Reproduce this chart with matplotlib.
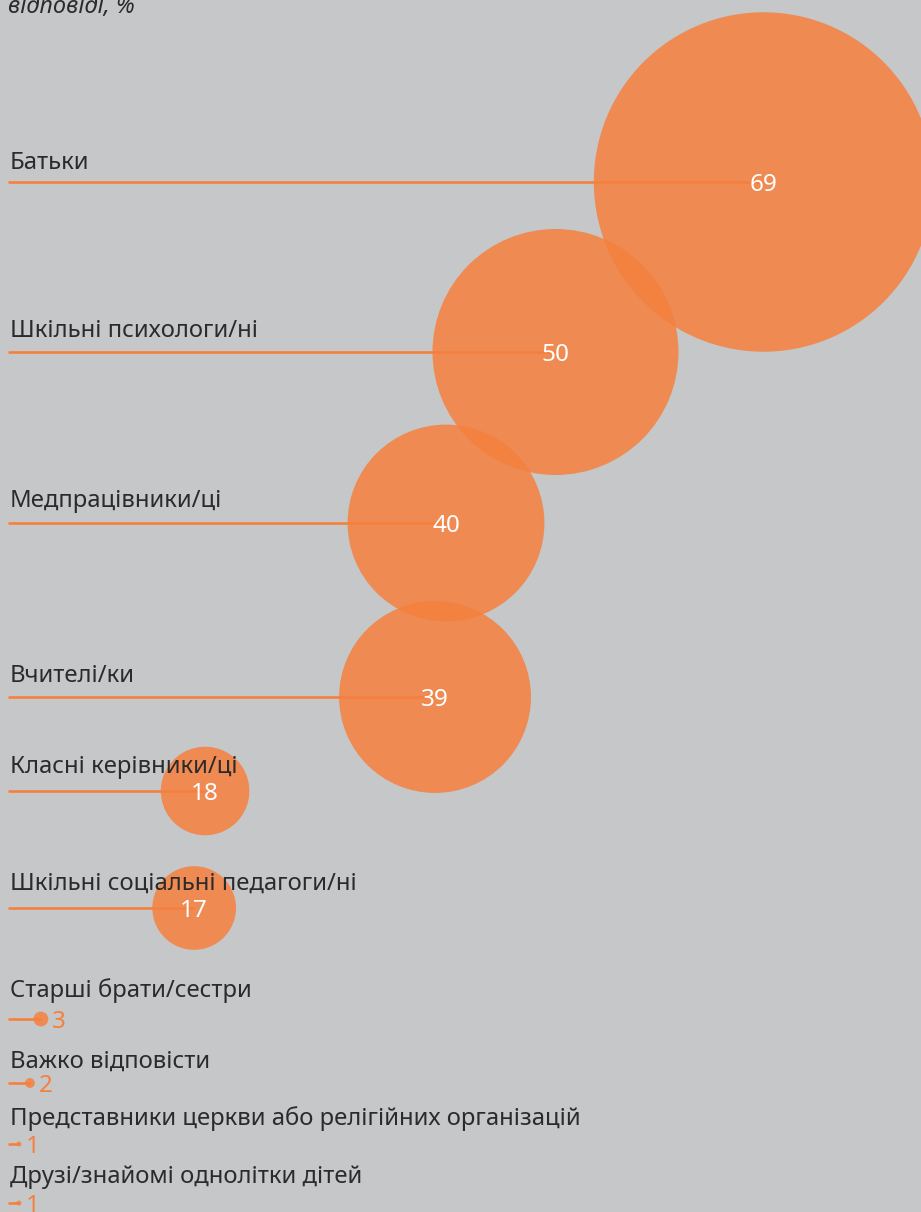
#Bubble lollipop chart: who children turn to.
import numpy as np
import matplotlib
matplotlib.use("Agg")
import matplotlib.pyplot as plt

#Font settings.
plt.rcParams['font.family'] = ['Noto Sans', 'DejaVu Sans']

#Data.
categories = ["Батьки",
              "Шкільні психологи/ні",
              "Медпрацівники/ці",
              "Вчителі/ки",
              "Класні керівники/ці",
              "Шкільні соціальні педагоги/ні",
              "Старші брати/сестри",
              "Важко відповісти",
              "Представники церкви або релігійних організацій",
              "Друзі/знайомі однолітки дітей"]
values = [69, 50, 40, 39, 18, 17, 3, 2, 1, 1]

#Layout (pixel rows from top).
row_y = [182, 352, 523, 697, 791, 908, 1019, 1083, 1144, 1203]
label_y = [169, 337, 507, 682, 773, 890, 997, 1068, 1125, 1183]

#Colours.
bg = "#C6C7C9"
orange = "#F5803E"
text_col = "#2B2B2B"

W, H, dpi = 921, 1212, 100
fig = plt.figure(figsize=(W/dpi, H/dpi), dpi=dpi, facecolor=bg)
ax = fig.add_axes([0, 0, 1, 1])
ax.set_facecolor(bg)

#x in value units, starting 8 px from left.
px_per_val = 10.95
x0 = 8
ax.set_xlim(-x0/px_per_val, (W - x0)/px_per_val)
ax.set_ylim(H, 0)
ax.axis('off')

vals = np.array(values)
#Radius in pixels grows linearly with value.
radius_px = 2.46*vals
sizes = (2*radius_px*72/dpi)**2

#Stems.
ax.hlines(row_y, 0, vals, color=orange, linewidth=1.9, zorder=1)
#Bubbles.
ax.scatter(vals, row_y, s=sizes, color=orange, alpha=0.86, linewidths=0, zorder=2)

#Category labels.
for lab, ly in zip(categories, label_y):
    ax.text(2/px_per_val, ly, lab, fontsize=17.2, color=text_col, va='baseline', ha='left', zorder=4)

#Value labels.
for v, y, r in zip(values, row_y, radius_px):
    if v >= 10:
        ax.annotate(str(v), (v, y), xytext=(0, -6.8), textcoords='offset points',
                    ha='center', va='baseline', color='white', fontsize=17.5, zorder=5)
    else:
        ax.annotate(str(v), (v, y), xytext=((r + 4)*72/dpi, -6.8), textcoords='offset points',
                    ha='left', va='baseline', color=orange, fontsize=17.5, zorder=5)

#Subtitle (cut at top).
ax.text(0, 13, "відповіді, %", fontsize=17, style='italic', color=text_col,
        va='baseline', ha='left', zorder=4)

fig.savefig("out.png", dpi=dpi, facecolor=bg)
